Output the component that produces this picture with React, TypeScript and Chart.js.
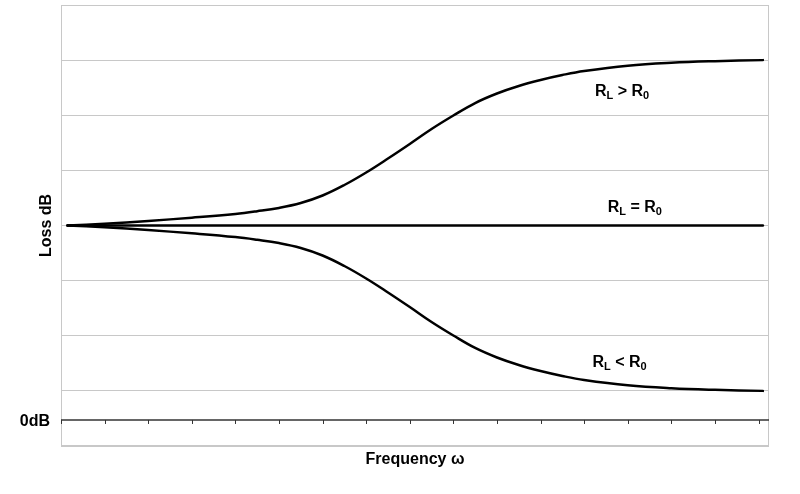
import { useEffect, useRef } from "react";
import { Chart, registerables } from "chart.js";

Chart.register(...registerables);

const FONT = '"Liberation Sans", Arial, sans-serif';

// Frequency positions (one unit per axis tick)
const freq = [0.15, 1, 2, 3, 4, 4.5, 5, 5.5, 6, 6.5, 7, 7.5, 8, 8.5, 9, 9.5, 10, 10.5, 11, 11.5, 12, 13, 14, 15, 16.1];
// R_L > R_0
const lossHigh = [4, 4.033, 4.083, 4.142, 4.21, 4.259, 4.319, 4.408, 4.544, 4.735, 4.962, 5.215, 5.479, 5.751, 5.996, 6.222, 6.395, 6.531, 6.64, 6.73, 6.803, 6.899, 6.952, 6.981, 7.0];
// R_L = R_0
const matchedFreq = [0.15, 16.1];
const lossMatched = [4, 4];
// R_L < R_0
const lossLow = [4, 3.967, 3.917, 3.858, 3.79, 3.741, 3.681, 3.592, 3.456, 3.265, 3.038, 2.785, 2.521, 2.249, 2.004, 1.778, 1.605, 1.469, 1.36, 1.27, 1.197, 1.101, 1.048, 1.019, 1.0];

// Axis
const xTicks = [0, 1, 2, 3, 4, 5, 6, 7, 8, 9, 10, 11, 12, 13, 14, 15, 16];
const xMax = 16.24;
const yMin = 0;
const yMax = 8;
const zeroDbLevel = 0.472;
const zeroDbLabel = "0dB";
const xTitle = "Frequency ω";
const yTitle = "Loss dB";

// Curve labels
const labelOps = [">", "=", "<"];
const labelFreq = [12.25, 12.54, 12.19];
const labelLoss = [6.35, 4.25, 1.44];

const overlayPlugin = {
  id: "overlay",
  beforeDatasetsDraw(chart: any) {
    const { ctx, chartArea, scales } = chart;
    const xs = scales.x;
    const ys = scales.y;
    ctx.save();
    // plot border
    ctx.strokeStyle = "#c8c8c8";
    ctx.lineWidth = 1;
    ctx.strokeRect(
      Math.round(chartArea.left) + 0.5,
      Math.round(chartArea.top) + 0.5,
      Math.round(chartArea.right - chartArea.left) - 1,
      Math.round(chartArea.bottom - chartArea.top) - 1
    );
    // 0dB axis
    const y0 = ys.getPixelForValue(zeroDbLevel);
    ctx.strokeStyle = "#333333";
    ctx.lineWidth = 1.5;
    ctx.beginPath();
    ctx.moveTo(chartArea.left, y0);
    ctx.lineTo(chartArea.right, y0);
    ctx.stroke();
    ctx.lineWidth = 1;
    for (const t of xTicks) {
      const px = Math.round(xs.getPixelForValue(t)) + 0.5;
      ctx.beginPath();
      ctx.moveTo(px, y0);
      ctx.lineTo(px, y0 + 4);
      ctx.stroke();
    }
    ctx.fillStyle = "#000";
    ctx.font = `bold 16px ${FONT}`;
    ctx.textAlign = "right";
    ctx.textBaseline = "alphabetic";
    ctx.fillText(zeroDbLabel, chartArea.left - 11, y0 + 6);
    ctx.restore();
  },
  afterDatasetsDraw(chart: any) {
    const { ctx, scales } = chart;
    const xs = scales.x;
    const ys = scales.y;
    ctx.save();
    ctx.fillStyle = "#000";
    ctx.textAlign = "left";
    ctx.textBaseline = "alphabetic";
    const big = `bold 16px ${FONT}`;
    const small = `bold 11px ${FONT}`;
    labelOps.forEach((op, i) => {
      let cx = xs.getPixelForValue(labelFreq[i]);
      const by = ys.getPixelForValue(labelLoss[i]);
      const parts: [string, string, number][] = [
        ["R", big, 0],
        ["L", small, 3],
        [` ${op} `, big, 0],
        ["R", big, 0],
        ["0", small, 3],
      ];
      for (const [txt, f, dy] of parts) {
        ctx.font = f;
        ctx.fillText(txt, cx, by + dy);
        cx += ctx.measureText(txt).width;
      }
    });
    ctx.restore();
  },
};

export default function App() {
  const ref = useRef<HTMLCanvasElement | null>(null);

  useEffect(() => {
    if (!ref.current) return;
    const lineStyle = {
      borderColor: "#000",
      backgroundColor: "#000",
      borderWidth: 2.5,
      pointRadius: 0,
      fill: false,
      tension: 0.4,
      borderCapStyle: "round" as const,
      borderJoinStyle: "round" as const,
    };
    const chart = new Chart(ref.current, {
      type: "line",
      data: {
        datasets: [
          { label: "RL > R0", data: freq.map((x, i) => ({ x, y: lossHigh[i] })), ...lineStyle },
          { label: "RL = R0", data: matchedFreq.map((x, i) => ({ x, y: lossMatched[i] })), ...lineStyle, tension: 0 },
          { label: "RL < R0", data: freq.map((x, i) => ({ x, y: lossLow[i] })), ...lineStyle },
        ],
      },
      options: {
        responsive: false,
        animation: false,
        events: [],
        layout: { padding: { left: 0, top: 5, right: 31, bottom: 0 } },
        plugins: {
          legend: { display: false },
          tooltip: { enabled: false },
        },
        scales: {
          x: {
            type: "linear",
            min: 0,
            max: xMax,
            grid: { display: false },
            border: { display: false },
            ticks: { display: false },
            title: {
              display: true,
              text: xTitle,
              color: "#000",
              font: { family: FONT, size: 16, weight: "bold" },
              padding: { top: 0, bottom: 25 },
            },
            afterFit(scale: any) {
              scale.height = 48;
            },
          },
          y: {
            type: "linear",
            min: yMin,
            max: yMax,
            grid: { color: "#c8c8c8", lineWidth: 1, drawTicks: false },
            border: { display: false },
            ticks: { display: false, stepSize: 1 },
            title: {
              display: true,
              text: yTitle,
              color: "#000",
              font: { family: FONT, size: 16, weight: "bold" },
              padding: { top: 37, bottom: 0 },
            },
            afterFit(scale: any) {
              scale.width = 61;
            },
          },
        },
      },
      plugins: [overlayPlugin],
    });
    return () => chart.destroy();
  }, []);

  return (
    <div style={{ position: "absolute", left: 0, top: 0, width: 800, height: 494, background: "#fff" }}>
      <canvas ref={ref} width={800} height={494} style={{ display: "block" }} />
    </div>
  );
}
